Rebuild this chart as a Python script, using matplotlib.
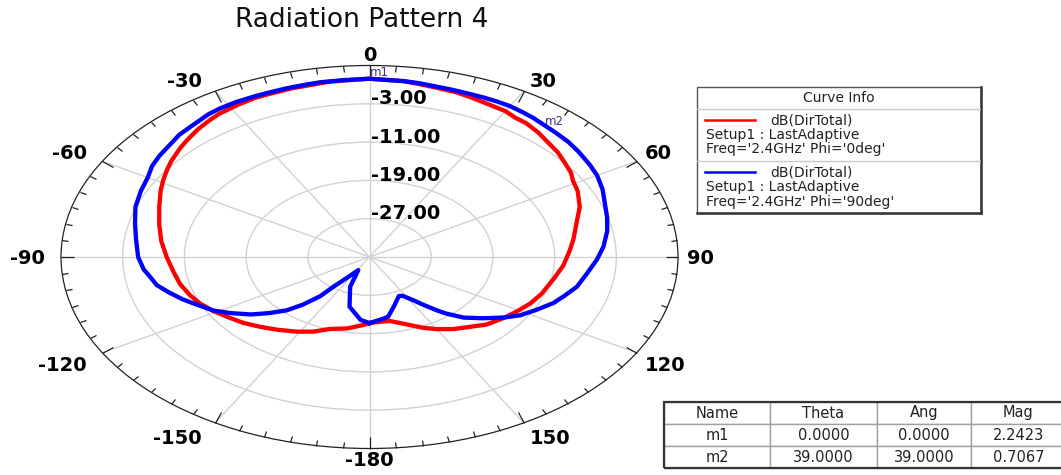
import numpy as np
import matplotlib
matplotlib.use("Agg")
import matplotlib.pyplot as plt
from matplotlib.patches import Rectangle
from matplotlib.transforms import ScaledTranslation

# ---- data -------------------------------------------------------------
title = "Radiation Pattern 4"

# dB(DirTotal), Phi = 0 deg
red_theta = [-180, -177, -169, -161, -155, -149, -142, -136, -130, -124,
             -119, -114, -109, -103, -97, -90, -83, -76, -69, -63,
             -59, -55, -52, -47, -44, -40, -36, -33, -28, -24,
             -21, -16, -8, 0, 7, 10, 14, 18, 21, 25,
             30, 33, 36, 40, 44, 48, 52, 56, 59, 63,
             69, 75, 82, 87, 94, 101, 109, 115, 121, 126,
             133, 138, 144, 150, 155, 160, 169, 174, 180]
red_db = [-21.2, -20.8, -19.8, -19.1, -17.8, -16.8, -15.7, -14.7, -13.6, -12.7,
          -11.8, -11.0, -10.4, -9.8, -9.4, -8.7, -7.8, -6.9, -5.8, -4.6,
          -3.8, -3.0, -2.4, -1.5, -1.0, -0.3, 0.3, 0.7, 1.1, 1.4,
          1.45, 1.65, 2.0, 2.2423, 2.0, 1.7, 1.4, 1.2, 0.9, 0.5,
          0.2, -0.3, -0.45, -1.0, -1.7, -2.2, -2.9, -3.5, -4.2, -4.7,
          -5.8, -7.2, -8.3, -9.0, -9.8, -10.7, -11.4, -12.0, -12.8, -13.4,
          -14.3, -15.4, -16.4, -17.6, -18.7, -19.9, -21.4, -21.4, -21.2]

# dB(DirTotal), Phi = 90 deg
blue_theta = [-180, -175, -166, -158, -152, -146, -143, -142, -139, -136,
              -132, -128, -123, -119, -114, -110, -106, -102, -98, -95,
              -90, -83, -77, -71, -65, -60, -56, -52, -48, -44,
              -40, -35, -32, -28, -24, -21, -17, -13, -10, -5,
              0, 7, 10, 14, 17, 21, 24, 27, 30, 33,
              36, 39, 43, 47, 51, 56, 60, 65, 75, 80,
              86, 91, 97, 103, 108, 112, 117, 122, 126, 131,
              136, 140, 142, 145, 148, 152, 155, 163, 169, 172,
              180]
blue_db = [-21.2, -21.8, -24.3, -28.3, -31.9, -29.7, -27.2, -24.6, -21.8, -19.5,
           -17.5, -15.5, -13.5, -11.9, -10.5, -9.2, -8.0, -6.8, -6.2, -5.6,
           -5.0, -4.5, -3.8, -2.9, -2.3, -1.8, -1.0, -0.5, -0.1, 0.5,
           0.8, 1.4, 1.6, 1.7, 1.72, 1.74, 1.84, 1.94, 2.05, 2.1,
           2.2423, 2.0, 1.87, 1.62, 1.54, 1.45, 1.45, 1.45, 1.4, 1.2,
           1.0, 0.7067, 0.45, 0.25, -0.1, -0.55, -0.92, -1.65, -3.1, -3.7,
           -4.6, -5.5, -6.6, -7.4, -8.5, -9.3, -10.7, -12.0, -13.5, -15.5,
           -17.4, -19.6, -20.9, -22.8, -24.4, -25.8, -26.0, -24.2, -22.3, -22.0,
           -21.2]

r_min, r_max = -35, 5
r_ticks = [-27, -19, -11, -3]
theta_ticks = [0, 30, 60, 90, 120, 150, 180, -150, -120, -90, -60, -30]
theta_labels = ["0", "30", "60", "90", "120", "150", "-180",
                "-150", "-120", "-90", "-60", "-30"]

legend_title = "Curve Info"
legend_names = ["dB(DirTotal)", "dB(DirTotal)"]
legend_setup = ["Setup1 : LastAdaptive", "Setup1 : LastAdaptive"]
legend_freq = ["Freq='2.4GHz' Phi='0deg'", "Freq='2.4GHz' Phi='90deg'"]
curve_colors = ["#ff0000", "#0000ff"]

marker_cols = ["Name", "Theta", "Ang", "Mag"]
marker_names = ["m1", "m2"]
marker_theta = [0.0, 39.0]
marker_ang = [0.0, 39.0]
marker_mag = [2.2423, 0.7067]

# ---- figure -----------------------------------------------------------
W, H = 1061, 475
fig = plt.figure(figsize=(W / 100, H / 100), dpi=100)


def px_rect(x0, y0, x1, y1):
    """Pixel box (top-left origin) -> figure fraction rect."""
    return [x0 / W, 1 - y1 / H, (x1 - x0) / W, (y1 - y0) / H]


def px_shift(dx, dy):
    return ScaledTranslation(dx / 100, dy / 100, fig.dpi_scale_trans)


ax = fig.add_axes(px_rect(61, 65.5, 678, 448.5), projection="polar")
ax.set_aspect("auto")
ax.set_theta_zero_location("N")
ax.set_theta_direction(-1)

ax.plot(np.deg2rad(red_theta), red_db, color=curve_colors[0], lw=3.1,
        solid_joinstyle="round", zorder=3)
ax.plot(np.deg2rad(blue_theta), blue_db, color=curve_colors[1], lw=3.1,
        solid_joinstyle="round", zorder=4)

# rings, spokes and the tick marks on the outer rim (pointing inward)
ax.set_yticks(r_ticks)
ax.set_yticklabels([])
ax.set_xticks(np.deg2rad(np.arange(0, 360, 30)))
ax.set_xticklabels([])
ax.set_xticks(np.deg2rad(np.arange(0, 360, 5)), minor=True)
ax.set_thetamin(0)
ax.set_thetamax(360)
ax.set_ylim(r_min, r_max)
ax.grid(True, color="#d2d2d2", lw=1.0)
ax.tick_params(axis="x", which="both", bottom=False, top=True,
               direction="in", width=0.9, colors="#222222")
ax.tick_params(axis="x", which="major", length=9)
ax.tick_params(axis="x", which="minor", length=4.5)
ax.tick_params(axis="y", length=0)
ax.spines["polar"].set_color("#222222")
ax.spines["polar"].set_linewidth(0.9)

# angle labels just outside the rim
for ang, lab in zip(theta_ticks, theta_labels):
    s, c = np.sin(np.deg2rad(ang)), np.cos(np.deg2rad(ang))
    if s > 0.1:
        ha, dx = "left", 3 + 6 * abs(s)
    elif s < -0.1:
        ha, dx = "right", -(11 + 5 * abs(s))
    else:
        ha, dx = "center", 0
    if c > 0.1:
        va, dy = "baseline", 4.5 * c
    elif c < -0.1:
        va, dy = "top", -min(7 * abs(c), 3 if abs(s) < 0.1 else 7)
    else:
        va, dy = "center_baseline", 0
    ax.text(np.deg2rad(ang), r_max, lab, transform=ax.transData + px_shift(dx, dy),
            ha=ha, va=va, fontsize=14, fontweight="bold",
            family="DejaVu Sans", color="black", clip_on=False)

# radial labels along the 0 deg spoke
for r in r_ticks:
    ax.text(0, r, f"{r:.2f}", transform=ax.transData + px_shift(2, 5),
            ha="left", va="center", fontsize=14, fontweight="bold",
            family="DejaVu Sans", color="black", zorder=5)

# marker labels
mk_offsets = [(10, 6), (12, 3)]
for name, th, mag, (dx, dy) in zip(marker_names, marker_theta, marker_mag,
                                   mk_offsets):
    ax.text(np.deg2rad(th), mag, name, transform=ax.transData + px_shift(dx, dy),
            ha="center", va="center", fontsize=8.5, color="#3b2f8f", zorder=6)

fig.text(362 / W, 1 - 27 / H, title, ha="center", va="baseline",
         fontsize=19, color="#111111", family="DejaVu Sans")

# ---- curve info box ---------------------------------------------------
lx0, ly0, lx1, ly1 = 697, 87, 981, 213
lg = fig.add_axes(px_rect(lx0, ly0, lx1, ly1))
lw_, lh_ = lx1 - lx0, ly1 - ly0
lg.set_xlim(0, lw_)
lg.set_ylim(lh_, 0)
lg.axis("off")
lg.add_patch(Rectangle((0, 0), lw_, lh_, fill=True, facecolor="white",
                       edgecolor="#555555", lw=1.0, clip_on=False))
lg.plot([lw_, lw_], [0, lh_], color="#333333", lw=1.8, clip_on=False)
lg.plot([0, lw_], [lh_, lh_], color="#333333", lw=1.8, clip_on=False)
lg.plot([0, lw_], [22, 22], color="#c8c8c8", lw=1.0)
lg.plot([0, lw_], [74, 74], color="#c8c8c8", lw=1.0)
lg.text(lw_ / 2, 11, legend_title, ha="center", va="center", fontsize=10,
        family="DejaVu Sans", color="#222222")
rows_y = [(33, 47.5, 62), (85, 100.5, 115)]
for (y_name, y_setup, y_freq), col, nm, st, fq in zip(
        rows_y, curve_colors, legend_names, legend_setup, legend_freq):
    lg.plot([8, 58], [y_name, y_name], color=col, lw=1.8)
    lg.text(73, y_name, nm, ha="left", va="center", fontsize=10,
            family="DejaVu Sans", color="#222222")
    lg.text(9, y_setup, st, ha="left", va="center", fontsize=10,
            family="DejaVu Sans", color="#222222")
    lg.text(9, y_freq, fq, ha="left", va="center", fontsize=10,
            family="DejaVu Sans", color="#222222")

# ---- marker table -----------------------------------------------------
tx0, ty0, tx1, ty1 = 664, 402, 1066, 468
tb_ax = fig.add_axes(px_rect(tx0, ty0, tx1, ty1))
tb_ax.axis("off")
cell_text = [[n, f"{t:.4f}", f"{a:.4f}", f"{m:.4f}"]
             for n, t, a, m in zip(marker_names, marker_theta, marker_ang,
                                   marker_mag)]
col_w = np.array([106, 107, 94, 95], dtype=float)
tbl = tb_ax.table(cellText=cell_text, colLabels=marker_cols,
                  cellLoc="center", colLoc="center",
                  colWidths=list(col_w / col_w.sum()), bbox=[0, 0, 1, 1])
tbl.auto_set_font_size(False)
tbl.set_fontsize(10.5)
for (row, col), cell in tbl.get_celld().items():
    cell.set_edgecolor("#a0a0a0")
    cell.set_linewidth(1.0)
    cell.get_text().set_color("#222222")
    cell.get_text().set_family("DejaVu Sans")
tb_ax.add_patch(Rectangle((0, 0), 1, 1, transform=tb_ax.transAxes,
                          fill=False, edgecolor="#333333", lw=1.6,
                          clip_on=False))

fig.savefig("out.png", dpi=100)
